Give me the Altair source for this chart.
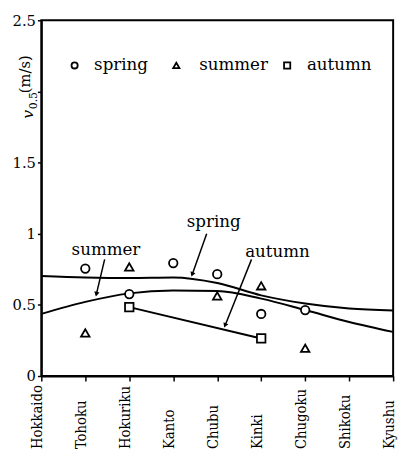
import altair as alt
import pandas as pd

regions = ["Hokkaido", "Tohoku", "Hokuriku", "Kanto", "Chubu", "Kinki", "Chugoku", "Shikoku", "Kyushu"]

spring_idx = [1, 2, 3, 4, 5, 6]
spring_vals = [0.755, 0.576, 0.794, 0.716, 0.436, 0.464]
summer_idx = [1, 2, 4, 5, 6]
summer_vals = [0.303, 0.767, 0.563, 0.634, 0.195]
autumn_idx = [2, 5]
autumn_vals = [0.484, 0.264]

curve_idx = [0, 1, 2, 3, 4, 5, 6, 7, 8]
spring_curve = [0.703, 0.693, 0.689, 0.693, 0.654, 0.567, 0.51, 0.475, 0.461]
summer_curve = [0.437, 0.521, 0.581, 0.601, 0.597, 0.544, 0.464, 0.38, 0.31]

ann_text = ["spring", "summer", "autumn"]
ann_tx = [3.92, 1.47, 5.37]
ann_ty = [1.08, 0.884, 0.868]
arr_x1 = [3.76, 1.44, 4.78]
arr_y1 = [1.0, 0.82, 0.82]
arr_x2 = [3.41, 1.24, 4.14]
arr_y2 = [0.696, 0.56, 0.326]
arr_angle = [200, 193, 202]

leg_names = ["spring", "summer", "autumn"]
leg_shapes = ["circle", "triangle-up", "square"]
leg_sx = [0.757, 3.07, 5.59]
leg_tx = [1.20, 3.59, 6.04]
leg_y = [2.183, 2.183, 2.183]

FONT = "DejaVu Serif"
FONT_C = "DejaVu Serif Condensed, DejaVu Serif"

xscale = alt.Scale(domain=[0, 8], nice=False)
yscale = alt.Scale(domain=[0, 2.5], nice=False)

label_expr = "[" + ",".join("'%s'" % r for r in regions) + "][datum.value]"

xaxis = alt.Axis(values=list(range(9)), labelExpr=label_expr, labelAngle=270,
                 labelAlign="left", labelBaseline="alphabetic", labelPadding=69,
                 labelFont=FONT_C, labelFontSize=15, title=None, tickSize=5, labelOverlap=False)
yaxis = alt.Axis(values=[0, 0.5, 1, 1.5, 2, 2.5],
                 labelExpr="datum.value == 2 ? '' : toString(datum.value)",
                 labelFont=FONT, labelFontSize=15, title=None, tickSize=4, labelPadding=2)

curves = pd.DataFrame({
    "x": curve_idx * 2,
    "y": spring_curve + summer_curve,
    "s": ["spring"] * 9 + ["summer"] * 9,
})
base_line = alt.Chart(curves).mark_line(color="black", strokeWidth=2, interpolate="monotone").encode(
    x=alt.X("x:Q", scale=xscale, axis=xaxis),
    y=alt.Y("y:Q", scale=yscale, axis=yaxis),
    detail="s:N",
)

aut = pd.DataFrame({"x": autumn_idx, "y": autumn_vals})
aut_line = alt.Chart(aut).mark_line(color="black", strokeWidth=2).encode(
    x=alt.X("x:Q", scale=xscale), y=alt.Y("y:Q", scale=yscale))

pts = pd.DataFrame({
    "x": spring_idx + summer_idx + autumn_idx,
    "y": spring_vals + summer_vals + autumn_vals,
    "season": ["spring"] * len(spring_idx) + ["summer"] * len(summer_idx) + ["autumn"] * len(autumn_idx),
})
points = alt.Chart(pts).mark_point(filled=True, fill="white", stroke="black", strokeWidth=1.8, size=75, opacity=1).encode(
    x=alt.X("x:Q", scale=xscale), y=alt.Y("y:Q", scale=yscale),
    shape=alt.Shape("season:N", scale=alt.Scale(domain=leg_names, range=leg_shapes), legend=None),
)

ann = pd.DataFrame({"t": ann_text, "tx": ann_tx, "ty": ann_ty, "x1": arr_x1, "y1": arr_y1,
                    "x2": arr_x2, "y2": arr_y2, "ang": arr_angle})
ann["hx"] = ann["x2"] + (ann["x1"] - ann["x2"]) * 0.06
ann["hy"] = ann["y2"] + (ann["y1"] - ann["y2"]) * 0.06
ann_text_m = alt.Chart(ann).mark_text(font=FONT, fontSize=17, color="black").encode(
    x=alt.X("tx:Q", scale=xscale), y=alt.Y("ty:Q", scale=yscale), text="t:N")
ann_rule = alt.Chart(ann).mark_rule(color="black", strokeWidth=1.5).encode(
    x=alt.X("x1:Q", scale=xscale), y=alt.Y("y1:Q", scale=yscale), x2="hx:Q", y2="hy:Q")
ann_head = alt.Chart(ann).mark_point(shape="triangle-up", filled=True, color="black", size=30, opacity=1).encode(
    x=alt.X("hx:Q", scale=xscale), y=alt.Y("hy:Q", scale=yscale), angle=alt.Angle("ang:Q", scale=None))

leg = pd.DataFrame({"n": leg_names, "sx": leg_sx, "tx": leg_tx, "y": leg_y})
leg_pts = alt.Chart(leg).mark_point(filled=True, fill="white", stroke="black", strokeWidth=1.8, size=40, opacity=1).encode(
    x=alt.X("sx:Q", scale=xscale), y=alt.Y("y:Q", scale=yscale),
    shape=alt.Shape("n:N", scale=alt.Scale(domain=leg_names, range=leg_shapes), legend=None))
leg_txt = alt.Chart(leg).mark_text(font=FONT, fontSize=17, align="left", baseline="middle", color="black").encode(
    x=alt.X("tx:Q", scale=xscale), y=alt.Y("y:Q", scale=yscale), text="n:N")

t_v = alt.Chart(pd.DataFrame({"t": ["v"]})).mark_text(font=FONT, fontSize=16, fontStyle="italic", angle=270,
                                                     align="center", baseline="middle", color="black").encode(
    x=alt.value(-13), y=alt.value(96), text="t:N")
t_sub = alt.Chart(pd.DataFrame({"t": ["0.5"]})).mark_text(font=FONT, fontSize=11, angle=270,
                                                         align="center", baseline="middle", color="black").encode(
    x=alt.value(-7), y=alt.value(82), text="t:N")
t_unit = alt.Chart(pd.DataFrame({"t": ["(m/s)"]})).mark_text(font=FONT, fontSize=15, angle=270,
                                                            align="center", baseline="middle", color="black").encode(
    x=alt.value(-17), y=alt.value(55), text="t:N")

chart = alt.layer(base_line, aut_line, points, ann_rule, ann_head, ann_text_m, leg_pts, leg_txt,
                  t_v, t_sub, t_unit).properties(
    width=359, height=363,
    autosize=alt.AutoSizeParams(type="none"),
    padding={"left": 34, "top": 8, "right": 7, "bottom": 75},
).configure_view(stroke="black", strokeWidth=2).configure_axis(
    grid=False, domainColor="black", domainWidth=2, tickColor="black", tickWidth=1.5,
    labelColor="black",
)

chart.save("out.html", embed_options={"renderer": "svg", "actions": False})
